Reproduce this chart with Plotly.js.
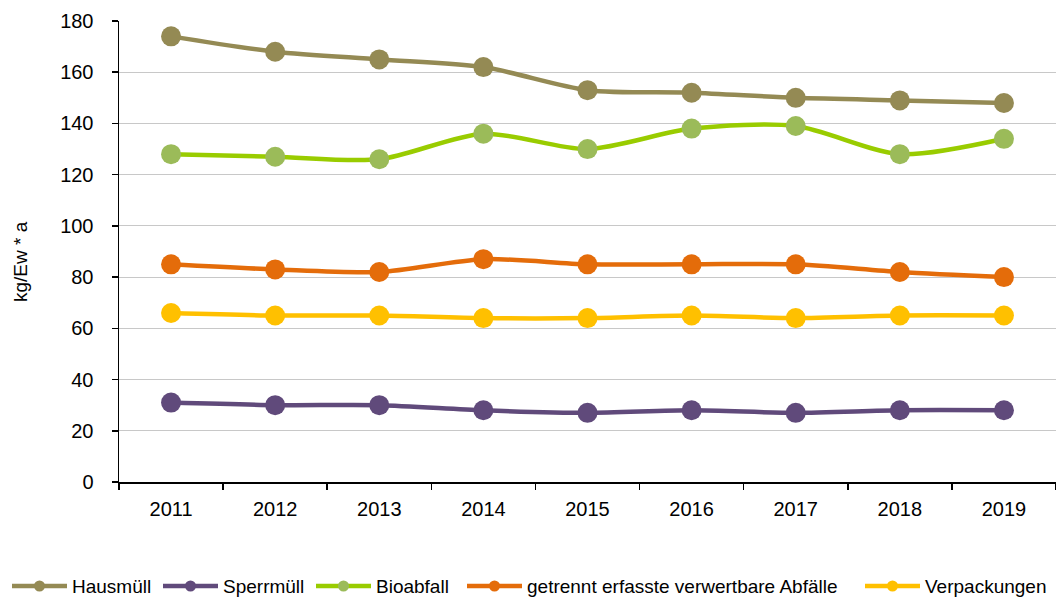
<!DOCTYPE html>
<html>
<head>
<meta charset="utf-8">
<script src="https://cdn.plot.ly/plotly-3.0.1.min.js"></script>
<style>
  html, body { margin: 0; padding: 0; background: #fff; }
  #chart { width: 1056px; height: 597px; }
</style>
</head>
<body>
<div id="chart"></div>
<script>
// Years on the category axis
const years = ['2011', '2012', '2013', '2014', '2015', '2016', '2017', '2018', '2019'];

// Collected amounts per inhabitant and year (kg/Ew * a)
const hausmuell   = [174, 168, 165, 162, 153, 152, 150, 149, 148];
const sperrmuell  = [31, 30, 30, 28, 27, 28, 27, 28, 28];
const bioabfall   = [128, 127, 126, 136, 130, 138, 139, 128, 134];
const verwertbar  = [85, 83, 82, 87, 85, 85, 85, 82, 80];
const verpackung  = [66, 65, 65, 64, 64, 65, 64, 65, 65];

// Series names as shown in the legend
const seriesNames = ['Hausmüll', 'Sperrmüll', 'Bioabfall', 'getrennt erfasste verwertbare Abfälle', 'Verpackungen'];

const yTicks = [0, 20, 40, 60, 80, 100, 120, 140, 160, 180];
const yTitle = 'kg/Ew * a';

const seriesDefs = [
  { name: seriesNames[0], values: hausmuell,  line: '#948A54', marker: '#948A54' },
  { name: seriesNames[1], values: sperrmuell, line: '#604A7B', marker: '#604A7B' },
  { name: seriesNames[2], values: bioabfall,  line: '#99CC00', marker: '#9BBB59' },
  { name: seriesNames[3], values: verwertbar, line: '#E46C0A', marker: '#E46C0A' },
  { name: seriesNames[4], values: verpackung, line: '#FFC000', marker: '#FFC000' }
];

const data = seriesDefs.map(s => ({
  type: 'scatter',
  mode: 'lines+markers',
  name: s.name,
  x: years,
  y: s.values,
  showlegend: false,
  line: { color: s.line, width: 4.5, shape: 'spline', smoothing: 0.8 },
  marker: { color: s.marker, size: 20, line: { width: 0 } }
}));

// Frame geometry (pixels)
const W = 1056, H = 597;
const M = { l: 119, r: 0, t: 21, b: 115 };
const plotW = W - M.l - M.r;
const plotH = H - M.t - M.b;
const px2paperX = px => (px - M.l) / plotW;
const px2paperY = py => (H - M.b - py) / plotH;

// Legend row below the plot: line sample with a dot, followed by the name
const legendY = 586;
const legendStarts = [12, 163, 316, 467, 865];
const sampleLen = 55;
const shapes = [];
const annotations = [];
seriesDefs.forEach((s, i) => {
  const x0 = legendStarts[i];
  shapes.push({
    type: 'line', xref: 'paper', yref: 'paper',
    x0: px2paperX(x0), x1: px2paperX(x0 + sampleLen),
    y0: px2paperY(legendY), y1: px2paperY(legendY),
    line: { color: s.line, width: 4.5 }
  });
  shapes.push({
    type: 'circle', xref: 'paper', yref: 'paper',
    xsizemode: 'pixel', ysizemode: 'pixel',
    xanchor: px2paperX(x0 + sampleLen / 2), yanchor: px2paperY(legendY),
    x0: -5.5, x1: 5.5, y0: -5.5, y1: 5.5,
    fillcolor: s.marker, line: { width: 0 }
  });
  annotations.push({
    xref: 'paper', yref: 'paper',
    x: px2paperX(x0 + sampleLen + 3), y: px2paperY(legendY),
    xanchor: 'left', yanchor: 'middle',
    text: s.name, showarrow: false,
    font: { size: 19, color: '#000000' }
  });
});

// Vertical axis caption
annotations.push({
  xref: 'paper', yref: 'paper',
  x: px2paperX(20), y: px2paperY(262),
  xanchor: 'center', yanchor: 'middle',
  textangle: -90,
  text: yTitle, showarrow: false,
  font: { size: 19, color: '#000000' }
});

const layout = {
  width: W,
  height: H,
  margin: { l: M.l, r: M.r, t: M.t, b: M.b, autoexpand: false },
  paper_bgcolor: '#ffffff',
  plot_bgcolor: '#ffffff',
  font: { family: 'Liberation Sans, Arial, sans-serif', size: 20, color: '#000000' },
  showlegend: false,
  shapes: shapes,
  annotations: annotations,
  xaxis: {
    type: 'category',
    range: [-0.5, 8.5],
    tickson: 'boundaries',
    ticks: 'outside',
    ticklen: 6,
    tickwidth: 1.5,
    tickcolor: '#000000',
    showgrid: false,
    showline: true,
    linecolor: '#000000',
    linewidth: 1.5,
    zeroline: false,
    ticklabelstandoff: 8,
    tickfont: { size: 20 }
  },
  yaxis: {
    range: [0, 180],
    tickvals: yTicks,
    ticktext: yTicks.map(String),
    ticks: 'outside',
    ticklen: 6,
    tickwidth: 1.5,
    tickcolor: '#000000',
    showgrid: true,
    gridcolor: '#C8C8C8',
    gridwidth: 1,
    showline: true,
    linecolor: '#000000',
    linewidth: 1.5,
    zeroline: false,
    ticklabelstandoff: 14,
    tickfont: { size: 20 }
  }
};

Plotly.newPlot('chart', data, layout, { displayModeBar: false, staticPlot: true });
</script>
</body>
</html>
